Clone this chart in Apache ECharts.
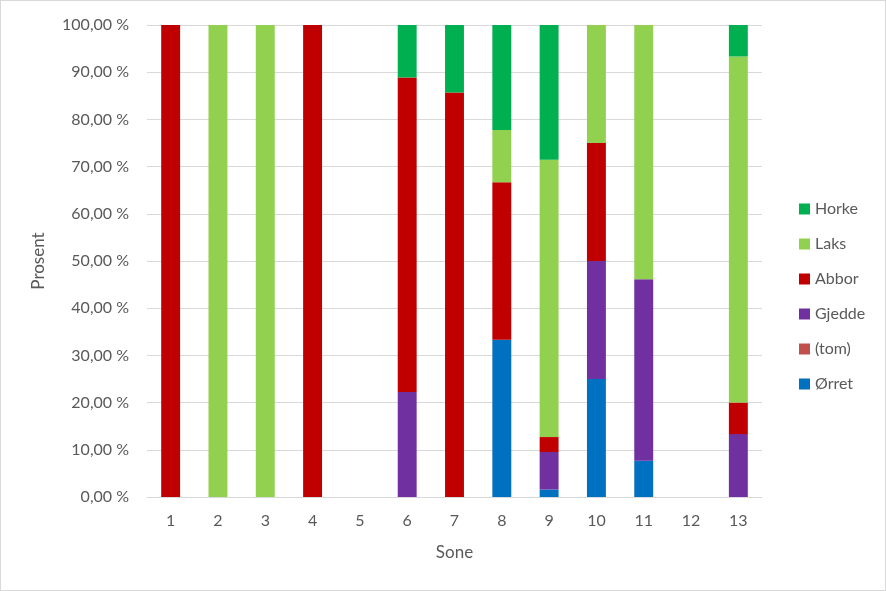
<!DOCTYPE html>
<html><head><meta charset="utf-8">
<script src="https://cdn.jsdelivr.net/npm/echarts@6/dist/echarts.min.js"></script>
<style>
html,body{margin:0;padding:0;background:#fff;}
#c{width:884px;height:589px;border:1px solid #d9d9d9;}
</style></head>
<body><div id="c"></div>
<script>
const categories = ['1','2','3','4','5','6','7','8','9','10','11','12','13'];
const orret  = [0,0,0,0,0,0,0,33.33,1.59,25,7.69,0,0];
const tom    = [0,0,0,0,0,0,0,0,0,0,0,0,0];
const gjedde = [0,0,0,0,0,22.22,0,0,7.94,25,38.46,0,13.33];
const abbor  = [100,0,0,100,0,66.67,85.71,33.33,3.17,25,0,0,6.67];
const laks   = [0,100,100,0,0,0,0,11.11,58.73,25,53.85,0,73.33];
const horke  = [0,0,0,0,0,11.11,14.29,22.22,28.57,0,0,0,6.67];
const seriesNames = ['Ørret','(tom)','Gjedde','Abbor','Laks','Horke'];
const seriesColors = ['#0070C0','#C0504D','#7030A0','#C00000','#92D050','#00B050'];
const seriesData = [orret, tom, gjedde, abbor, laks, horke];
const legendOrder = ['Horke','Laks','Abbor','Gjedde','(tom)','Ørret'];

const FONT = 'Lato, "Open Sans", sans-serif';
const chart = echarts.init(document.getElementById('c'), null, {renderer:'canvas'});
chart.setOption({
  animation:false,
  textStyle:{fontFamily:FONT},
  grid:{left:146,right:123,top:24,bottom:93,containLabel:false},
  legend:{
    orient:'vertical', left:793, top:195,
    data:legendOrder, itemWidth:11, itemHeight:11, itemGap:19,
    icon:'rect',
    textStyle:{fontFamily:FONT,fontSize:16,color:'#595959'}
  },
  xAxis:{
    type:'category', data:categories,
    name:'Sone', nameLocation:'middle', nameGap:47,
    nameTextStyle:{fontFamily:FONT,fontSize:17,color:'#595959'},
    axisLine:{lineStyle:{color:'#D9D9D9'}},
    axisTick:{show:false},
    axisLabel:{fontFamily:FONT,fontSize:16,color:'#595959',margin:16}
  },
  yAxis:{
    type:'value', min:0, max:100, interval:10,
    name:'Prosent', nameLocation:'middle', nameGap:100, nameRotate:90,
    nameTextStyle:{fontFamily:FONT,fontSize:17,color:'#595959'},
    axisLine:{show:false}, axisTick:{show:false},
    splitLine:{lineStyle:{color:'#D9D9D9'}},
    axisLabel:{fontFamily:FONT,fontSize:16,color:'#595959',margin:18,
      formatter:v=>v.toFixed(2).replace('.',',')+' %'}
  },
  series: seriesNames.map((n,i)=>({
    name:n, type:'bar', stack:'s', data:seriesData[i],
    barWidth:'40%', itemStyle:{color:seriesColors[i]}
  }))
});
</script></body></html>
